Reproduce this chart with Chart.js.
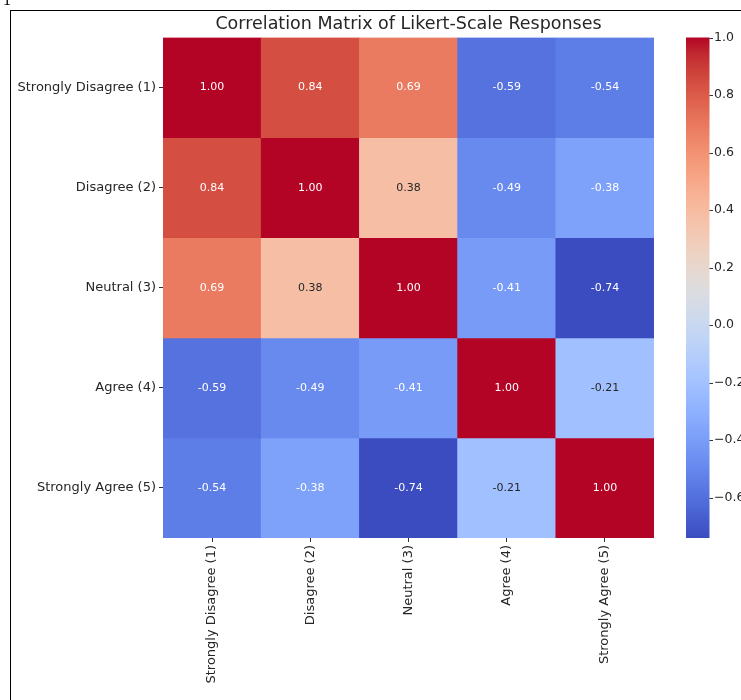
<!DOCTYPE html>
<html>
<head>
<meta charset="utf-8">
<script src="https://cdn.jsdelivr.net/npm/chart.js@4.4.1/dist/chart.umd.min.js"></script>
<style>
  html, body { margin:0; padding:0; background:#fff; overflow:hidden; width:741px; height:700px; }
  #wrap { position:absolute; left:0; top:0; width:800px; height:700px; }
  #frame { position:absolute; left:10px; top:10px; width:800px; height:720px; border-left:1.5px solid #000; border-top:1.5px solid #000; pointer-events:none; }
  #one { position:absolute; left:3px; top:-8px; font:16px "Liberation Serif"; line-height:16px; color:#000; }
</style>
</head>
<body>
<div id="wrap"><canvas id="c" width="800" height="700"></canvas></div>
<div id="frame"></div>
<div id="one">1</div>
<script>
// ---- data ----
const rowLabels = ['Strongly Disagree (1)', 'Disagree (2)', 'Neutral (3)', 'Agree (4)', 'Strongly Agree (5)'];
const colLabels = ['Strongly Disagree (1)', 'Disagree (2)', 'Neutral (3)', 'Agree (4)', 'Strongly Agree (5)'];
const rowStronglyDisagree = [1.00, 0.84, 0.69, -0.59, -0.54];
const rowDisagree         = [0.84, 1.00, 0.38, -0.49, -0.38];
const rowNeutral          = [0.69, 0.38, 1.00, -0.41, -0.74];
const rowAgree            = [-0.59, -0.49, -0.41, 1.00, -0.21];
const rowStronglyAgree    = [-0.54, -0.38, -0.74, -0.21, 1.00];
const matrix = [rowStronglyDisagree, rowDisagree, rowNeutral, rowAgree, rowStronglyAgree];
const colorbarTicks = [1.0, 0.8, 0.6, 0.4, 0.2, 0.0, -0.2, -0.4, -0.6];
const vmin = -0.74, vmax = 1.0;
const titleText = 'Correlation Matrix of Likert-Scale Responses';

// ---- coolwarm colormap ----
const coolwarm = [
 [59,76,192],[68,90,204],[77,104,215],[87,117,225],[98,130,234],[108,142,241],[119,154,247],[130,165,251],
 [141,176,254],[152,185,255],[163,194,255],[174,201,253],[184,208,249],[194,213,244],[204,217,238],[213,219,230],
 [221,221,221],[229,216,209],[236,211,197],[241,204,185],[245,196,173],[247,187,160],[247,177,148],[247,166,135],
 [244,154,123],[241,141,111],[236,127,99],[229,112,88],[222,96,77],[213,80,66],[203,62,56],[192,40,47],[180,4,38]
];
function cmap(t) {
  t = Math.max(0, Math.min(1, t));
  const n = coolwarm.length - 1, f = t * n, i = Math.min(n - 1, Math.floor(f)), r = f - i;
  const a = coolwarm[i], b = coolwarm[i + 1];
  return [0,1,2].map(k => Math.round(a[k] + (b[k] - a[k]) * r));
}
const norm = v => (v - vmin) / (vmax - vmin);
const rgb = c => `rgb(${c[0]},${c[1]},${c[2]})`;
function lum(c) {
  const l = c.map(x => { x /= 255; return x <= 0.03928 ? x / 12.92 : Math.pow((x + 0.055) / 1.055, 2.4); });
  return 0.2126 * l[0] + 0.7152 * l[1] + 0.0722 * l[2];
}

const FONT = '"DejaVu Sans"';
const TXT = '#262626';

const datasets = matrix.map((row, i) => ({
  label: rowLabels[i],
  data: row.map(() => [i, i + 1]),
  backgroundColor: row.map(v => rgb(cmap(norm(v)))),
  borderWidth: 0,
  grouped: false,
  barPercentage: 1,
  categoryPercentage: 1,
  yAxisID: 'y'
}));

const cellText = {
  id: 'cellText',
  afterDatasetsDraw(chart) {
    const ctx = chart.ctx;
    ctx.save();
    ctx.font = '11px ' + FONT;
    ctx.textAlign = 'center';
    ctx.textBaseline = 'middle';
    matrix.forEach((row, i) => {
      const meta = chart.getDatasetMeta(i);
      meta.data.forEach((bar, j) => {
        const v = row[j];
        ctx.fillStyle = lum(cmap(norm(v))) > 0.408 ? TXT : '#ffffff';
        ctx.fillText(v.toFixed(2), bar.x, (bar.y + bar.base) / 2);
      });
    });
    ctx.restore();
  }
};

const titleAndColorbar = {
  id: 'titleAndColorbar',
  afterDraw(chart) {
    const ctx = chart.ctx, s = chart.scales.cb, ca = chart.chartArea;
    ctx.save();
    // title
    ctx.font = '17.5px ' + FONT;
    ctx.fillStyle = TXT;
    ctx.textAlign = 'center';
    ctx.textBaseline = 'middle';
    ctx.fillText(titleText, (ca.left + ca.right) / 2, ca.top - 13);
    // colorbar
    const x0 = ca.right + 32, w = 23.5;
    const yTop = s.getPixelForValue(vmax), yBot = s.getPixelForValue(vmin);
    const g = ctx.createLinearGradient(0, yBot, 0, yTop);
    coolwarm.forEach((c, k) => g.addColorStop(k / (coolwarm.length - 1), rgb(c)));
    ctx.fillStyle = g;
    ctx.fillRect(x0, yTop, w, yBot - yTop);
    ctx.strokeStyle = '#333';
    ctx.lineWidth = 1;
    colorbarTicks.forEach(v => {
      const y = Math.round(s.getPixelForValue(v)) + 0.5;
      ctx.beginPath(); ctx.moveTo(x0 + w, y); ctx.lineTo(x0 + w + 3.5, y); ctx.stroke();
    });
    ctx.restore();
  }
};

new Chart(document.getElementById('c'), {
  type: 'bar',
  data: { labels: colLabels, datasets },
  plugins: [cellText, titleAndColorbar],
  options: {
    responsive: false,
    animation: false,
    layout: { padding: { top: 37.5, left: 0, right: 0, bottom: 0 } },
    plugins: {
      legend: { display: false },
      tooltip: { enabled: false },
      title: { display: false }
    },
    scales: {
      x: {
        type: 'category',
        offset: true,
        grid: { display: true, offset: false, drawOnChartArea: false, drawTicks: true, tickLength: 4, color: '#333' },
        border: { display: false },
        ticks: { autoSkip: false, maxRotation: 90, minRotation: 90, padding: 3, color: TXT, font: { family: FONT, size: 13 } },
        afterFit(s) { s.height = 162; }
      },
      y: {
        type: 'linear',
        position: 'left',
        reverse: true,
        min: 0, max: 5,
        afterBuildTicks(s) { s.ticks = rowLabels.map((_, i) => ({ value: i + 0.5 })); },
        grid: { display: true, drawOnChartArea: false, drawTicks: true, tickLength: 4, color: '#333' },
        border: { display: false },
        ticks: { padding: 3, color: TXT, font: { family: FONT, size: 13 }, callback: (v, idx) => rowLabels[idx] },
        afterFit(s) { s.width = 163; s.paddingTop = 0; s.paddingBottom = 0; }
      },
      cb: {
        type: 'linear',
        position: 'right',
        min: vmin, max: vmax,
        afterBuildTicks(s) { s.ticks = colorbarTicks.map(v => ({ value: v })); },
        grid: { display: false, drawTicks: false, drawOnChartArea: false },
        border: { display: false },
        ticks: { padding: 60, color: TXT, font: { family: FONT, size: 12.5 },
                 callback: v => v.toFixed(1).replace('-', '\u2212') },
        afterFit(s) { s.width = 146; s.paddingTop = 0; s.paddingBottom = 0; }
      }
    }
  }
});
</script>
</body>
</html>
